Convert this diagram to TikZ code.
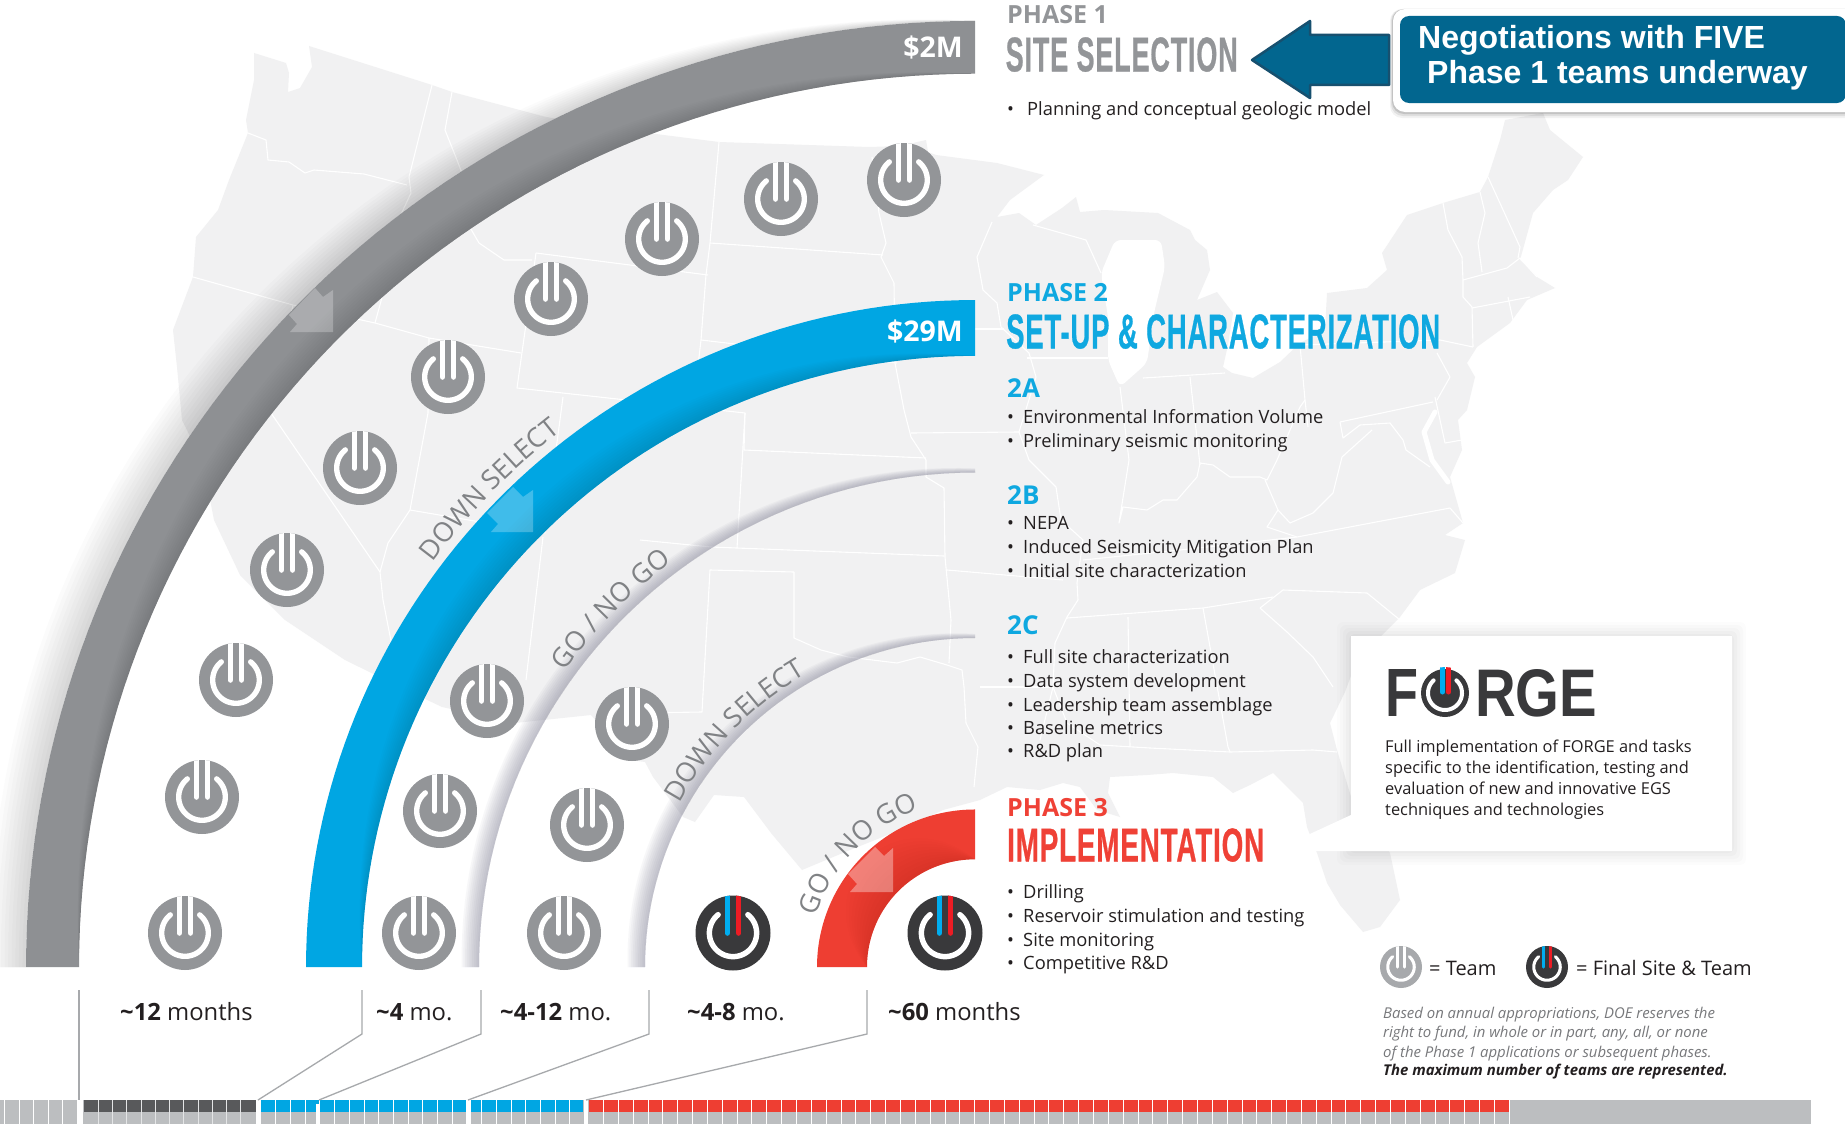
\documentclass[tikz,border=0pt]{standalone}
\usepackage{fontspec}
\usepackage{graphicx}
\usetikzlibrary{decorations.text,calc}
\setmainfont{Open Sans}
\newfontfamily\condf[FakeBold=0.8,LetterSpace=3]{Liberation Sans Bold}
\newfontfamily\arialf{Liberation Sans}
\definecolor{mapc}{HTML}{F1F1F2}
\definecolor{grayarc}{HTML}{8E9093}
\definecolor{bluearc}{HTML}{00A6E3}
\definecolor{redarc}{HTML}{EE3E32}
\definecolor{icongray}{HTML}{939598}
\definecolor{icondark}{HTML}{39393B}
\definecolor{pblue}{HTML}{00ADEF}
\definecolor{pred}{HTML}{ED1C24}
\definecolor{titlegray}{HTML}{939598}
\definecolor{titleblue}{HTML}{0FA8E0}
\definecolor{titlered}{HTML}{EF4136}
\definecolor{lblgray}{HTML}{808285}
\definecolor{barback}{HTML}{BCBEC0}
\definecolor{bardark}{HTML}{58595B}
\definecolor{calloutblue}{HTML}{02668F}
\definecolor{arrowedge}{HTML}{17506F}
\definecolor{textc}{HTML}{231F20}
\definecolor{notegray}{HTML}{77787B}
\definecolor{leader}{HTML}{A7A9AC}
\definecolor{legendgray}{HTML}{A7A9AC}
\definecolor{shadelil}{HTML}{7A7A90}
\tikzset{
  body/.style={anchor=base west,inner sep=0pt,text=textc,font=\fontsize{18.3}{20}\selectfont},
  months/.style={anchor=base west,inner sep=0pt,text=textc,font=\fontsize{23.8}{24}\selectfont},
  phasehead/.style={anchor=base west,inner sep=0pt,font=\fontsize{25}{24}\selectfont\bfseries},
  subhead/.style={anchor=base west,inner sep=0pt,text=titleblue,font=\fontsize{26}{24}\selectfont\bfseries},
  money/.style={anchor=base east,inner sep=0pt,text=white,font=\fontsize{28.5}{24}\selectfont\bfseries},
  titlenode/.style={anchor=south west,inner sep=0pt},
  note/.style={anchor=base west,inner sep=0pt,text=notegray,font=\fontsize{14.9}{16}\selectfont\itshape},
  forgetext/.style={anchor=base west,inner sep=0pt,text=textc,font=\fontsize{16.4}{18}\selectfont},
  callouttext/.style={anchor=base west,inner sep=0pt,text=white,font=\fontsize{32}{36}\arialf\bfseries},
  stateline/.style={draw=white,line width=1.1pt,line join=round},
  leaderline/.style={draw=leader,line width=1.3pt},
  overarrow/.style={fill=white},
}
\newcommand{\bandfill}[5]{\fill[#5] plot[domain=#3:#4,samples=70,variable=\t] ({975+#1*cos(\t)},{967-0.997*#1*sin(\t)}) -- plot[domain=#4:#3,samples=70,variable=\t] ({975+#2*cos(\t)},{967-0.997*#2*sin(\t)}) -- cycle;}
\newcommand{\crescent}[5]{\foreach \i in {1,...,10}{\fill[#4,fill opacity=#5] plot[domain=180:90,samples=50,variable=\t] ({975+(#1+\i/10*#2*(#3))*cos(\t)},{967-0.997*(#1+\i/10*#2*(#3))*sin(\t)}) -- plot[domain=90:180,samples=50,variable=\t] ({975+#1*cos(\t)},{967-0.997*#1*sin(\t)}) -- cycle;}}
\newcommand{\pwicon}[6]{%
  \fill[#4] (#1,#2) circle[radius=#3 pt];
  \begin{scope}
    \clip (#1,#2) circle[radius=#3 pt];
    \draw[#5,line width=#3*0.15pt,line cap=round] ({#1-#3*0.15},{#2-#3-4}) -- ({#1-#3*0.15},#2);
    \draw[#6,line width=#3*0.15pt,line cap=round] ({#1+#3*0.15},{#2-#3-4}) -- ({#1+#3*0.15},#2);
  \end{scope}
  \draw[white,line width=#3*0.145pt,line cap=round] plot[domain=51:-231,samples=50,variable=\t] ({#1+#3*0.63*cos(\t)},{#2-#3*0.63*sin(\t)});
}
\newcommand{\arclabel}[4]{\path[decorate,decoration={text along path,text align=center,text color=lblgray,text={|\fontsize{27}{28}\selectfont|#4}}] plot[domain=#2:#3,samples=40,variable=\t] ({975+#1*cos(\t)},{967-#1*sin(\t)});}
\newcommand{\tld}{\char"007E\relax}
\begin{document}
\begin{tikzpicture}[x=1pt,y=-1pt]
\useasboundingbox (0,0) rectangle (1845,1124);
\fill[white] (0,0) rectangle (1845,1124);
\fill[mapc,line join=round] (309,46)--(432,85)--(452,92)--(546,117)--(640,132)--(719,142)--(869,147)--(900,146)--(926,140)--(928,152)--(936,155)--(997,163)--(1044,175)--(1010,200)--(997,217)--(1019,213)--(1036,225)--(1062,208)--(1076,197)--(1080,212)--(1104,210)--(1158,213)--(1190,230)--(1195,240)--(1207,250)--(1210,270)--(1197,300)--(1217,292)--(1233,313)--(1228,345)--(1223,367)--(1232,373)--(1253,378)--(1280,362)--(1300,343)--(1325,330)--(1327,293)--(1367,288)--(1387,270)--(1382,253)--(1407,215)--(1443,203)--(1480,192)--(1488,177)--(1500,140)--(1505,120)--(1543,113)--(1550,130)--(1583,157)--(1568,180)--(1553,190)--(1533,213)--(1520,260)--(1537,277)--(1555,288)--(1527,300)--(1510,323)--(1477,347)--(1467,363)--(1475,377)--(1467,410)--(1458,420)--(1462,450)--(1450,477)--(1463,523)--(1445,535)--(1465,540)--(1455,573)--(1420,590)--(1400,617)--(1380,637)--(1352,673)--(1345,692)--(1330,723)--(1337,750)--(1352,800)--(1390,853)--(1400,900)--(1380,927)--(1363,932)--(1340,905)--(1327,883)--(1317,853)--(1307,827)--(1303,803)--(1273,773)--(1250,785)--(1233,793)--(1213,777)--(1173,773)--(1147,775)--(1110,777)--(1108,793)--(1120,817)--(1097,810)--(1080,787)--(1063,783)--(1040,790)--(1007,787)--(980,800)--(943,810)--(900,830)--(850,850)--(802,870)--(771,833)--(744,797)--(714,795)--(695,822)--(683,817)--(653,777)--(645,762)--(630,760)--(591,715)--(515,723)--(442,707)--(400,687)--(345,660)--(285,620)--(240,575)--(214,520)--(203,463)--(182,420)--(177,367)--(173,330)--(193,277)--(196,237)--(218,210)--(229,180)--(248,133)--(246,120)--(254,80)--(254,53)--(286,63)--(289,73)--(288,92)--(300,88)--(312,67)--cycle;
\fill[white,rounded corners=6pt] (1115,240)--(1101,273)--(1108,317)--(1108,360)--(1120,387)--(1147,363)--(1154,313)--(1165,267)--(1161,240)--cycle;
\draw[white,line width=5pt,line cap=round,line join=round] (1435,412)--(1424,432)--(1432,460)--(1448,482);
\draw[stateline] (248,133)--(266,140)--(268,160)--(289,162)--(305,173)--(314,170)--(364,174)--(407,185);
\draw[stateline] (432,85)--(409,177)--(411,193)--(389,240)--(395,250)--(375,323);
\draw[stateline] (452,92)--(445,130)--(457,160)--(471,197)--(464,217)--(479,243)--(504,260)--(532,260);
\draw[stateline] (193,277)--(293,305)--(375,323)--(429,338)--(521,353);
\draw[stateline] (293,305)--(271,413)--(380,572)--(383,600)--(400,687);
\draw[stateline] (536,253)--(517,388)--(745,413)--(744,450)--(926,458);
\draw[stateline] (536,253)--(708,275);
\draw[stateline] (719,142)--(710,243)--(706,275)--(701,340)--(694,400);
\draw[stateline] (710,243)--(883,255);
\draw[stateline] (701,340)--(897,363);
\draw[stateline] (872,157)--(879,213)--(886,243)--(881,257)--(894,283)--(895,363)--(904,410)--(911,437)--(926,460)--(926,477)--(944,488)--(945,557)--(951,620)--(949,663);
\draw[stateline] (745,413)--(737,548);
\draw[stateline] (640,540)--(711,547)--(944,556);
\draw[stateline] (911,433)--(1019,432);
\draw[stateline] (895,329)--(1004,329);
\draw[stateline] (1027,358)--(1108,358);
\draw[stateline] (992,222)--(977,257)--(983,290)--(997,303)--(1001,327)--(1029,353)--(1036,377)--(1019,432)--(1029,460)--(1056,487)--(1061,520)--(1083,540)--(1077,583)--(1078,600)--(1067,617)--(1055,643)--(1053,687)--(1040,740);
\draw[stateline] (1033,225)--(1086,240)--(1101,273);
\draw[stateline] (1120,387)--(1129,460)--(1119,523)--(1123,507)--(1147,510)--(1163,500)--(1177,500)--(1197,477)--(1200,463)--(1213,465)--(1230,477)--(1260,477)--(1267,480)--(1277,460)--(1300,407);
\draw[stateline] (1143,378)--(1225,373);
\draw[stateline] (1190,377)--(1200,465);
\draw[stateline] (1300,345)--(1305,400)--(1300,407);
\draw[stateline] (1305,400)--(1308,427);
\draw[stateline] (1340,422)--(1433,402);
\draw[stateline] (1340,422)--(1343,438)--(1360,425)--(1390,423)--(1403,440)--(1406,450)--(1430,467);
\draw[stateline] (1372,430)--(1342,457)--(1333,493)--(1313,513)--(1290,523)--(1278,510)--(1265,480);
\draw[stateline] (1278,510)--(1267,527)--(1297,537)--(1450,508);
\draw[stateline] (1297,537)--(1180,550)--(1083,560);
\draw[stateline] (1450,508)--(1463,523);
\draw[stateline] (947,570)--(1063,580);
\draw[stateline] (1067,618)--(1203,608)--(1273,597);
\draw[stateline] (1128,617)--(1130,747);
\draw[stateline] (1203,608)--(1228,747)--(1230,752);
\draw[stateline] (1150,748)--(1230,752)--(1313,750)--(1337,752);
\draw[stateline] (1260,608)--(1287,632)--(1313,657)--(1333,687);
\draw[stateline] (1260,608)--(1283,590)--(1367,593)--(1400,620);
\draw[stateline] (980,687)--(1053,687);
\draw[stateline] (1053,687)--(1067,723)--(1100,745)--(1150,748);
\draw[stateline] (794,572)--(710,570)--(702,712)--(637,713);
\draw[stateline] (794,572)--(794,638)--(821,650)--(848,657)--(897,663)--(920,657)--(947,665)--(962,670)--(964,687)--(966,723)--(978,747)--(974,787);
\draw[stateline] (543,537)--(526,680);
\draw[stateline] (563,397)--(545,533);
\draw[stateline] (410,510)--(545,533);
\draw[stateline] (429,338)--(428,413)--(410,510)--(388,543)--(380,572);
\draw[stateline] (1443,203)--(1448,230)--(1462,257)--(1463,280)--(1463,297)--(1472,307)--(1473,347);
\draw[stateline] (1480,192)--(1485,213)--(1478,243)--(1482,272);
\draw[stateline] (1488,177)--(1520,247)--(1518,258);
\draw[stateline] (1463,280)--(1507,268)--(1520,258)--(1537,277);
\draw[stateline] (1472,308)--(1530,297);
\draw[stateline] (1508,297)--(1513,320);
\draw[stateline] (1300,345)--(1440,340)--(1473,347);
\draw[stateline] (1437,353)--(1450,377)--(1437,400);
\draw[stateline] (1435,397)--(1445,443)--(1462,440);
\foreach \i/\op in {14/.012,11/.014,8/.016,5/.018,2/.02}{\fill[black,fill opacity=\op,rounded corners=6pt] (1351-\i,636-\i) rectangle (1732+\i,851+\i);}
\fill[white] (1351,636)--(1732,636)--(1732,851)--(1273,851)--(1351,815)--cycle;
\crescent{949}{40}{sin((\t-90)*1.3)}{black}{0.017}
\crescent{496}{19}{0.22+0.78*sin((\t-90)*1.3)}{shadelil}{0.055}
\crescent{330}{19}{0.22+0.78*sin((\t-90)*1.3)}{shadelil}{0.055}
\bandfill{949}{896}{180}{90}{grayarc}
\crescent{896}{26}{sin((\t-90)*2)}{black}{0.012}
\bandfill{669}{613}{180}{90}{bluearc}
\crescent{613}{28}{sin((\t-90)*2)}{black}{0.012}
\bandfill{158}{108}{180}{90}{redarc}
\crescent{108}{45}{sin((\t-90)*2)}{black}{0.008}
\fill[overarrow,fill opacity=.25] (315,288)--(323,297)--(333,290)--(333,332)--(290,332)--(297,324)--(289,315)--cycle;
\fill[overarrow,fill opacity=.25] (513,487)--(523,497)--(533,490)--(533,532)--(491,532)--(498,524)--(487,513)--cycle;
\fill[overarrow,fill opacity=.35] (875,847)--(884,856)--(893,848)--(893,892)--(850,892)--(857,884)--(848,874)--cycle;
\arclabel{677}{144.5}{126.5}{DOWN SELECT}
\arclabel{506}{147}{124}{GO / NO GO}
\arclabel{338}{155}{116}{DOWN SELECT}
\arclabel{167}{170}{102}{GO / NO GO}
\node[money] (m2) at (963,58) {\$2M};
\node[money] (m29) at (963,341) {\$29M};
\foreach \x/\y in {904/180,781/199,662/239,551/299,448/377,360/468,287/570,236/680,202/797,185/933,487/701,632/724,440/811,587/825,419/933,564/933}{\pwicon{\x}{\y}{37}{icongray}{white}{white}}
\foreach \x/\y in {733/933,945/933}{\pwicon{\x}{\y}{37.5}{icondark}{pblue}{pred}}
\node[phasehead,text=titlegray] (p1) at (1007,24) {PHASE 1};
\node[titlenode,text=titlegray] (t1) at (1005.5,72) {\resizebox{232pt}{34pt}{\condf SITE SELECTION}};
\node[body,anchor=base west] (b1) at (1007,115) {\makebox[20pt][l]{•}Planning and conceptual geologic model};
\node[phasehead,text=titleblue] (p2) at (1007,301) {PHASE 2};
\node[titlenode,text=titleblue] (t2) at (1006,349) {\resizebox{434pt}{34pt}{\condf SET-UP \& CHARACTERIZATION}};
\node[subhead] (h2a) at (1007,397) {2A};
\node[body] (a1) at (1007,423) {\makebox[16pt][l]{•}Environmental Information Volume};
\node[body] (a2) at (1007,447) {\makebox[16pt][l]{•}Preliminary seismic monitoring};
\node[subhead] (h2b) at (1007,504) {2B};
\node[body] (c1) at (1007,529) {\makebox[16pt][l]{•}NEPA};
\node[body] (c2) at (1007,553) {\makebox[16pt][l]{•}Induced Seismicity Mitigation Plan};
\node[body] (c3) at (1007,577) {\makebox[16pt][l]{•}Initial site characterization};
\node[subhead] (h2c) at (1007,634) {2C};
\node[body] (d1) at (1007,663) {\makebox[16pt][l]{•}Full site characterization};
\node[body] (d2) at (1007,687) {\makebox[16pt][l]{•}Data system development};
\node[body] (d3) at (1007,711) {\makebox[16pt][l]{•}Leadership team assemblage};
\node[body] (d4) at (1007,734) {\makebox[16pt][l]{•}Baseline metrics};
\node[body] (d5) at (1007,757) {\makebox[16pt][l]{•}R\&D plan};
\node[phasehead,text=titlered] (p3) at (1007,816) {PHASE 3};
\node[titlenode,text=titlered] (t3) at (1007,862) {\resizebox{257pt}{33pt}{\condf IMPLEMENTATION}};
\node[body] (e1) at (1007,898) {\makebox[16pt][l]{•}Drilling};
\node[body] (e2) at (1007,922) {\makebox[16pt][l]{•}Reservoir stimulation and testing};
\node[body] (e3) at (1007,946) {\makebox[16pt][l]{•}Site monitoring};
\node[body] (e4) at (1007,969) {\makebox[16pt][l]{•}Competitive R\&D};
\foreach \i/\op in {6/.05,4/.08,2/.12}{\fill[black,fill opacity=\op,rounded corners=12pt] (1393-\i/2,9) rectangle (1860,112+\i);}
\fill[white,rounded corners=12pt] (1393,9) rectangle (1860,112);
\fill[calloutblue,rounded corners=9pt] (1400,16) rectangle (1846,103);
\filldraw[fill=calloutblue,draw=arrowedge,line width=2.5pt,line join=round] (1389,35)--(1310,35)--(1310,21)--(1252,60)--(1310,98)--(1310,85)--(1389,85)--cycle;
\node[callouttext] (n1) at (1418,49) {Negotiations with FIVE};
\node[callouttext] (n2) at (1427,84) {Phase 1 teams underway};
\node[titlenode,text=icondark] (ff) at (1385,717) {\resizebox{33pt}{47pt}{\arialf\bfseries F}};
\node[titlenode,text=icondark] (rge) at (1475,717) {\resizebox{122pt}{47pt}{\arialf\bfseries RGE}};
\fill[icondark] (1445,693) circle[radius=24pt];
\begin{scope}
\clip (1445,693) circle[radius=26pt];
\draw[pblue,line width=5pt,line cap=round] (1442.5,660)--(1442.5,692);
\draw[pred,line width=5pt,line cap=round] (1448.5,660)--(1448.5,692);
\end{scope}
\draw[white,line width=4pt,line cap=round] plot[domain=48:-228,samples=40,variable=\t] ({1445+17*cos(\t)},{693-17*sin(\t)});
\node[forgetext] (f1) at (1385,752) {Full implementation of FORGE and tasks};
\node[forgetext] (f2) at (1385,773) {specific to the identification, testing and};
\node[forgetext] (f3) at (1385,794) {evaluation of new and innovative EGS};
\node[forgetext] (f4) at (1385,815) {techniques and technologies};
\pwicon{1401}{967}{21}{legendgray}{white}{white}
\node[months,font=\fontsize{20}{22}\selectfont] (lg1) at (1429,975) {= Team};
\pwicon{1547}{967}{21}{icondark}{pblue}{pred}
\node[months,font=\fontsize{20}{22}\selectfont] (lg2) at (1576,975) {= Final Site \& Team};
\node[note] (no1) at (1383,1018) {Based on annual appropriations, DOE reserves the};
\node[note] (no2) at (1383,1037) {right to fund, in whole or in part, any, all, or none};
\node[note] (no3) at (1383,1057) {of the Phase 1 applications or subsequent phases.};
\node[note,text=textc,font=\fontsize{14.9}{16}\selectfont\itshape\bfseries] (no4) at (1383,1075) {The maximum number of teams are represented.};
\node[months] (mo1) at (120,1020) {{\bfseries\tld 12} months};
\node[months] (mo2) at (376,1020) {{\bfseries\tld 4} mo.};
\node[months] (mo3) at (500,1020) {{\bfseries\tld 4-12} mo.};
\node[months] (mo4) at (687,1020) {{\bfseries\tld 4-8} mo.};
\node[months] (mo5) at (888,1020) {{\bfseries\tld 60} months};
\fill[barback] (0,1100) rectangle (1811,1124);
\fill[bardark] (84,1100) rectangle (255.5,1112);
\fill[bluearc] (261,1100) rectangle (583,1112);
\fill[redarc] (588.5,1100) rectangle (1510,1112);
\foreach \k in {1,...,5}{\draw[white,line width=.8pt] ({77-\k*14.5},1100)--({77-\k*14.5},1124);}
\foreach \k in {1,...,11}{\draw[white!60!barback,line width=.8pt] ({84+\k*14.25},1100)--({84+\k*14.25},1124);}
\foreach \k in {1,...,21}{\draw[white,line width=.8pt] ({261+\k*14.7},1100)--({261+\k*14.7},1124);}
\foreach \k in {1,...,62}{\draw[white,line width=.8pt] ({588.5+\k*14.85},1100)--({588.5+\k*14.85},1124);}
\fill[white] (77,1100) rectangle (83,1124);
\fill[white] (256,1100) rectangle (260.5,1124);
\fill[white] (316,1104) rectangle (320,1124);
\fill[white] (466,1100) rectangle (470.5,1124);
\fill[white] (583.5,1100) rectangle (588,1124);
\coordinate (la0) at (79,990); \coordinate (lb0) at (79,1100);
\coordinate (la1) at (362,990); \coordinate (lm1) at (362,1034); \coordinate (lb1) at (258,1100);
\coordinate (la2) at (481,990); \coordinate (lm2) at (481,1034); \coordinate (lb2) at (319,1100);
\coordinate (la3) at (649,990); \coordinate (lm3) at (649,1034); \coordinate (lb3) at (468,1100);
\coordinate (la4) at (867,990); \coordinate (lm4) at (867,1034); \coordinate (lb4) at (586,1100);
\draw[leaderline] (la0)--(lb0);
\draw[leaderline] (la1)--(lm1)--(lb1);
\draw[leaderline] (la2)--(lm2)--(lb2);
\draw[leaderline] (la3)--(lm3)--(lb3);
\draw[leaderline] (la4)--(lm4)--(lb4);
\end{tikzpicture}
\end{document}
